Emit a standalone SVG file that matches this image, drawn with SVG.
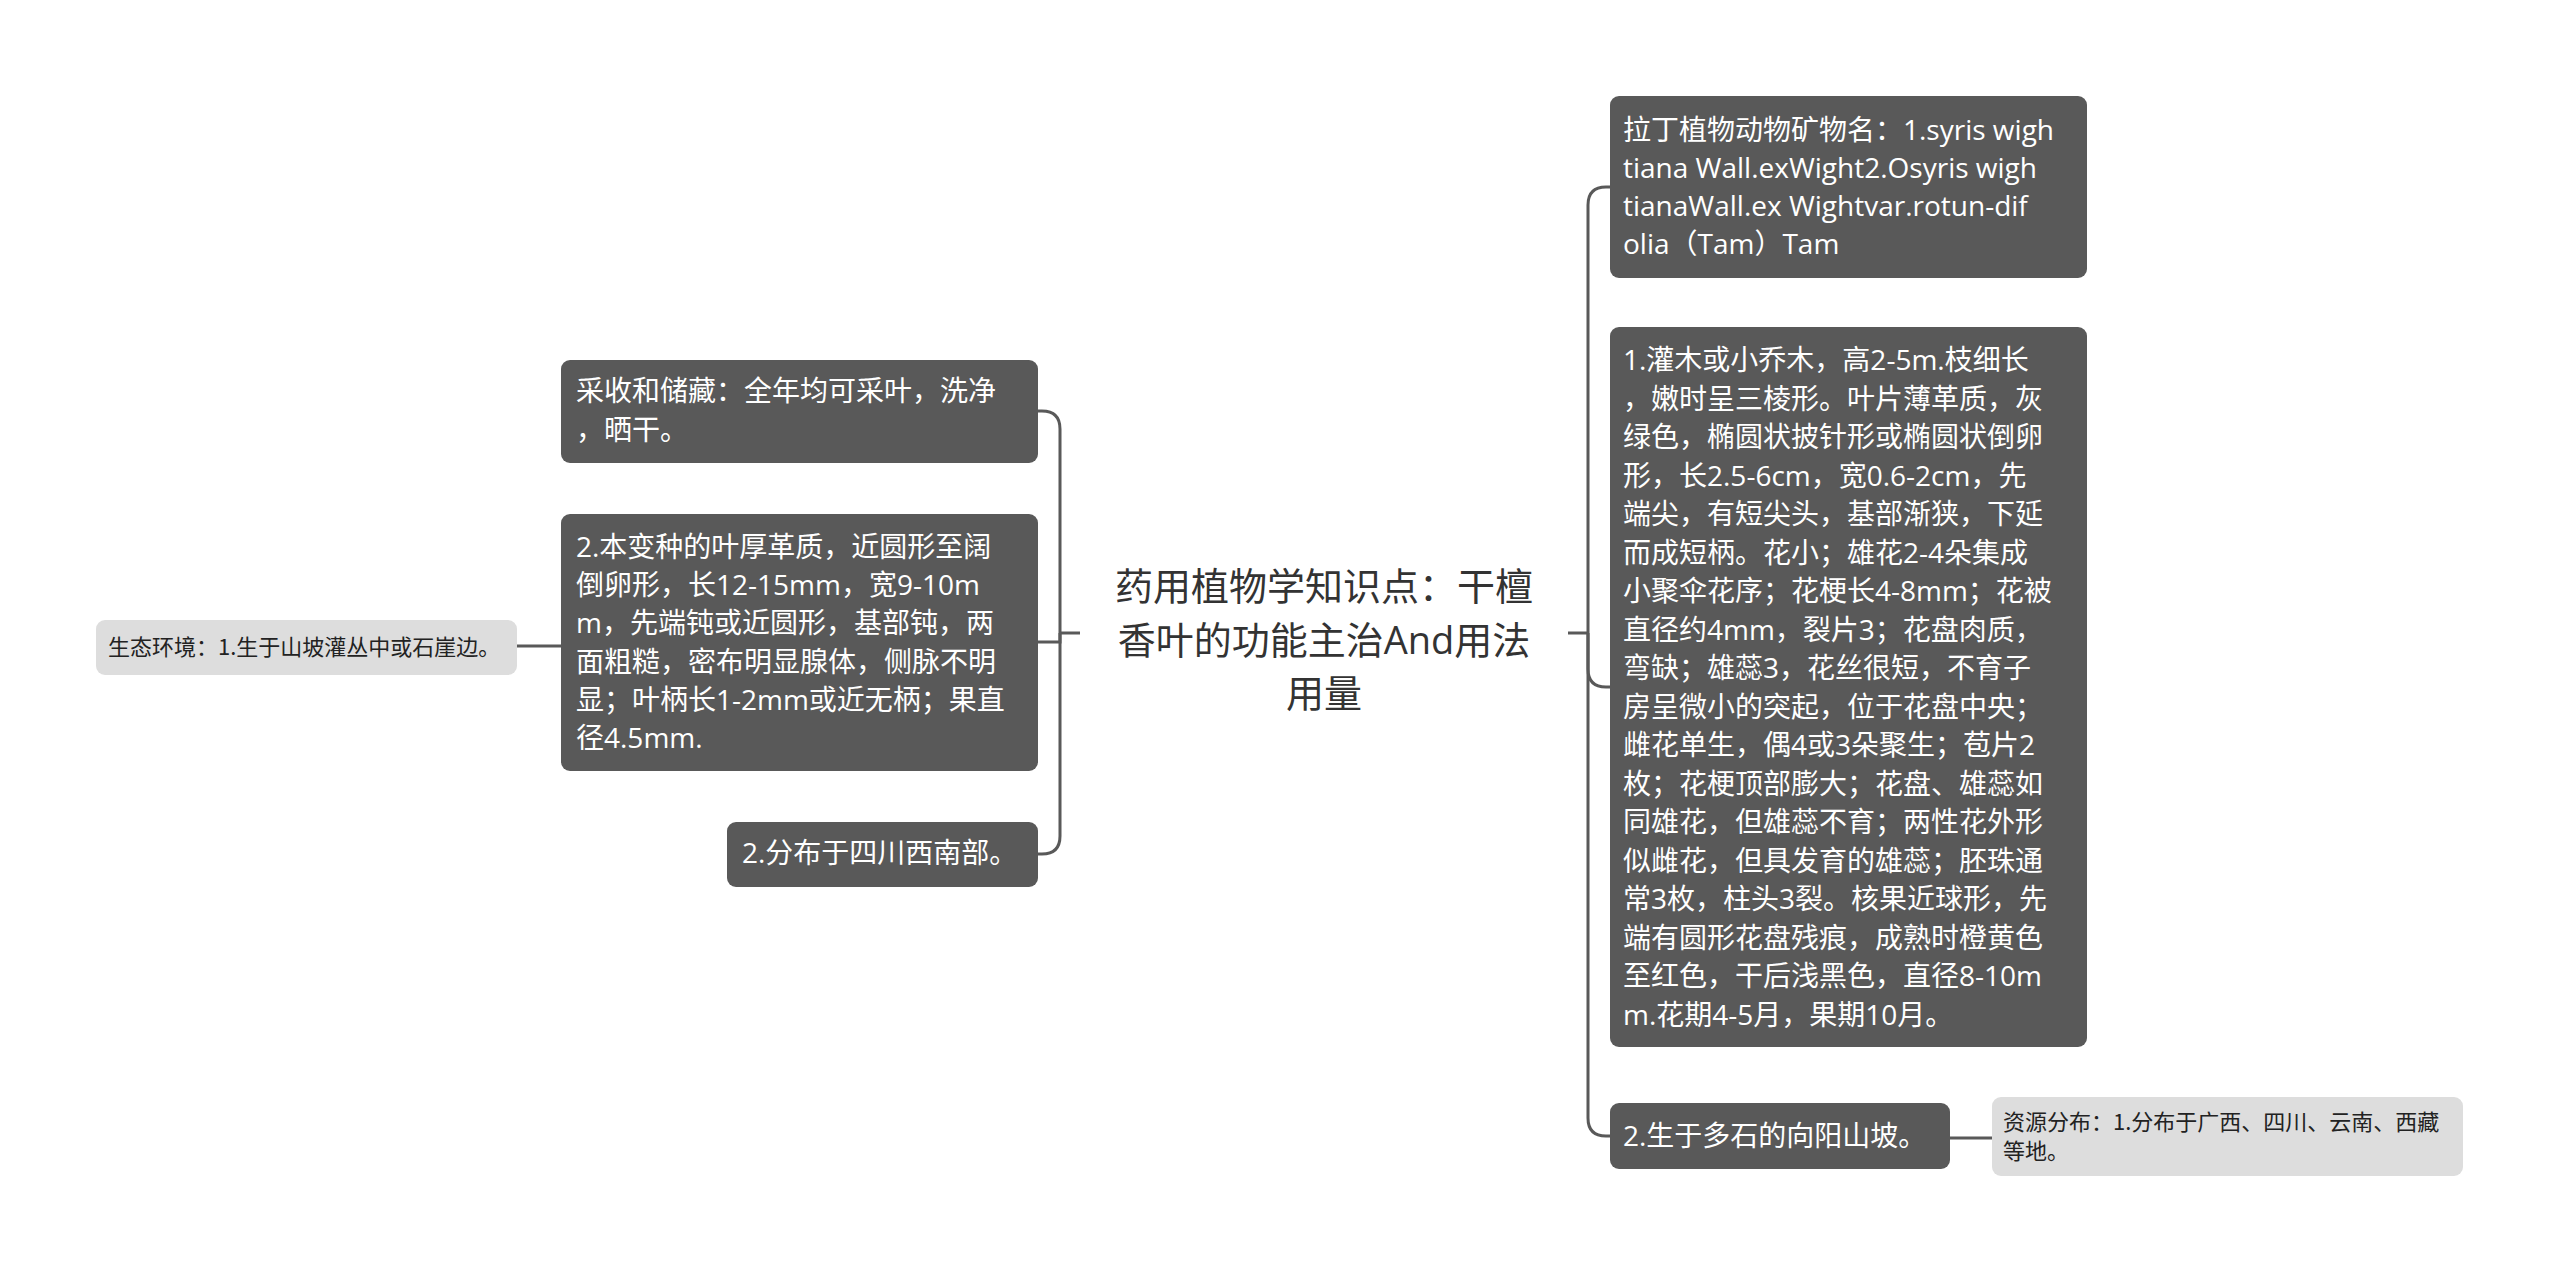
<svg xmlns="http://www.w3.org/2000/svg" width="2560" height="1273" viewBox="0 0 2560 1273">
<style>
.dark{fill:#595959;}
.light{fill:#dddddd;}
.tw{fill:#ffffff;font-family:"Open Sans","Noto Sans CJK SC",sans-serif;font-size:28px;}
.tl{fill:#222222;font-family:"Noto Sans CJK SC","Liberation Sans",sans-serif;font-size:22px;}
.tc{fill:#333333;font-family:"Open Sans","Noto Sans CJK SC",sans-serif;font-size:38px;text-anchor:middle;}
.conn{fill:none;stroke:#595959;stroke-width:3;}
</style>
<rect width="2560" height="1273" fill="#ffffff"/>
<g id="connectors">
<path class="conn" d="M1080,633 H1060"/>
<path class="conn" d="M1060,633 V429 Q1060,411 1042,411 H1038"/>
<path class="conn" d="M1060,633 V642 H1038"/>
<path class="conn" d="M1060,633 V836 Q1060,854 1042,854 H1038"/>
<path class="conn" d="M561,646 H517"/>
<path class="conn" d="M1568,633 H1588"/>
<path class="conn" d="M1588,633 V205 Q1588,187 1606,187 H1610"/>
<path class="conn" d="M1588,633 V669 Q1588,687 1606,687 H1610"/>
<path class="conn" d="M1588,633 V1118 Q1588,1136 1606,1136 H1610"/>
<path class="conn" d="M1950,1138 H1992"/>
</g>
<g id="topic">
<text class="tc" x="1324" y="600">药用植物学知识点：干檀</text>
<text class="tc" x="1324" y="654">香叶的功能主治And用法</text>
<text class="tc" x="1324" y="707">用量</text>
</g>
<g id="L1">
<rect class="dark" x="561" y="360" width="477" height="103" rx="9"/>
<text class="tw" x="576" y="401">采收和储藏：全年均可采叶，洗净</text>
<text class="tw" x="576" y="440">，晒干。</text>
</g>
<g id="L2">
<rect class="dark" x="561" y="514" width="477" height="257" rx="9"/>
<text class="tw" x="576" y="557">2.本变种的叶厚革质，近圆形至阔</text>
<text class="tw" x="576" y="595">倒卵形，长12-15mm，宽9-10m</text>
<text class="tw" x="576" y="633">m，先端钝或近圆形，基部钝，两</text>
<text class="tw" x="576" y="672">面粗糙，密布明显腺体，侧脉不明</text>
<text class="tw" x="576" y="710">显；叶柄长1-2mm或近无柄；果直</text>
<text class="tw" x="576" y="748">径4.5mm.</text>
</g>
<g id="L3">
<rect class="dark" x="727" y="822" width="311" height="65" rx="9"/>
<text class="tw" x="742" y="863">2.分布于四川西南部。</text>
</g>
<g id="L2a">
<rect class="light" x="96" y="620" width="421" height="55" rx="9"/>
<text class="tl" x="108" y="655">生态环境：1.生于山坡灌丛中或石崖边。</text>
</g>
<g id="R1">
<rect class="dark" x="1610" y="96" width="477" height="182" rx="9"/>
<text class="tw" x="1623" y="140">拉丁植物动物矿物名：1.syris wigh</text>
<text class="tw" x="1623" y="178">tiana Wall.exWight2.Osyris wigh</text>
<text class="tw" x="1623" y="216">tianaWall.ex Wightvar.rotun-dif</text>
<text class="tw" x="1623" y="254">olia（Tam）Tam</text>
</g>
<g id="R2">
<rect class="dark" x="1610" y="327" width="477" height="720" rx="9"/>
<text class="tw" x="1623" y="370">1.灌木或小乔木，高2-5m.枝细长</text>
<text class="tw" x="1623" y="408.5">，嫩时呈三棱形。叶片薄革质，灰</text>
<text class="tw" x="1623" y="447">绿色，椭圆状披针形或椭圆状倒卵</text>
<text class="tw" x="1623" y="485.5">形，长2.5-6cm，宽0.6-2cm，先</text>
<text class="tw" x="1623" y="524">端尖，有短尖头，基部渐狭，下延</text>
<text class="tw" x="1623" y="562.5">而成短柄。花小；雄花2-4朵集成</text>
<text class="tw" x="1623" y="601">小聚伞花序；花梗长4-8mm；花被</text>
<text class="tw" x="1623" y="639.5">直径约4mm，裂片3；花盘肉质，</text>
<text class="tw" x="1623" y="678">弯缺；雄蕊3，花丝很短，不育子</text>
<text class="tw" x="1623" y="716.5">房呈微小的突起，位于花盘中央；</text>
<text class="tw" x="1623" y="755">雌花单生，偶4或3朵聚生；苞片2</text>
<text class="tw" x="1623" y="793.5">枚；花梗顶部膨大；花盘、雄蕊如</text>
<text class="tw" x="1623" y="832">同雄花，但雄蕊不育；两性花外形</text>
<text class="tw" x="1623" y="870.5">似雌花，但具发育的雄蕊；胚珠通</text>
<text class="tw" x="1623" y="909">常3枚，柱头3裂。核果近球形，先</text>
<text class="tw" x="1623" y="947.5">端有圆形花盘残痕，成熟时橙黄色</text>
<text class="tw" x="1623" y="986">至红色，干后浅黑色，直径8-10m</text>
<text class="tw" x="1623" y="1024.5">m.花期4-5月，果期10月。</text>
</g>
<g id="R3">
<rect class="dark" x="1610" y="1103" width="340" height="66" rx="9"/>
<text class="tw" x="1623" y="1146">2.生于多石的向阳山坡。</text>
</g>
<g id="R3a">
<rect class="light" x="1992" y="1097" width="471" height="79" rx="9"/>
<text class="tl" x="2003" y="1130">资源分布：1.分布于广西、四川、云南、西藏</text>
<text class="tl" x="2003" y="1159">等地。</text>
</g>
</svg>
